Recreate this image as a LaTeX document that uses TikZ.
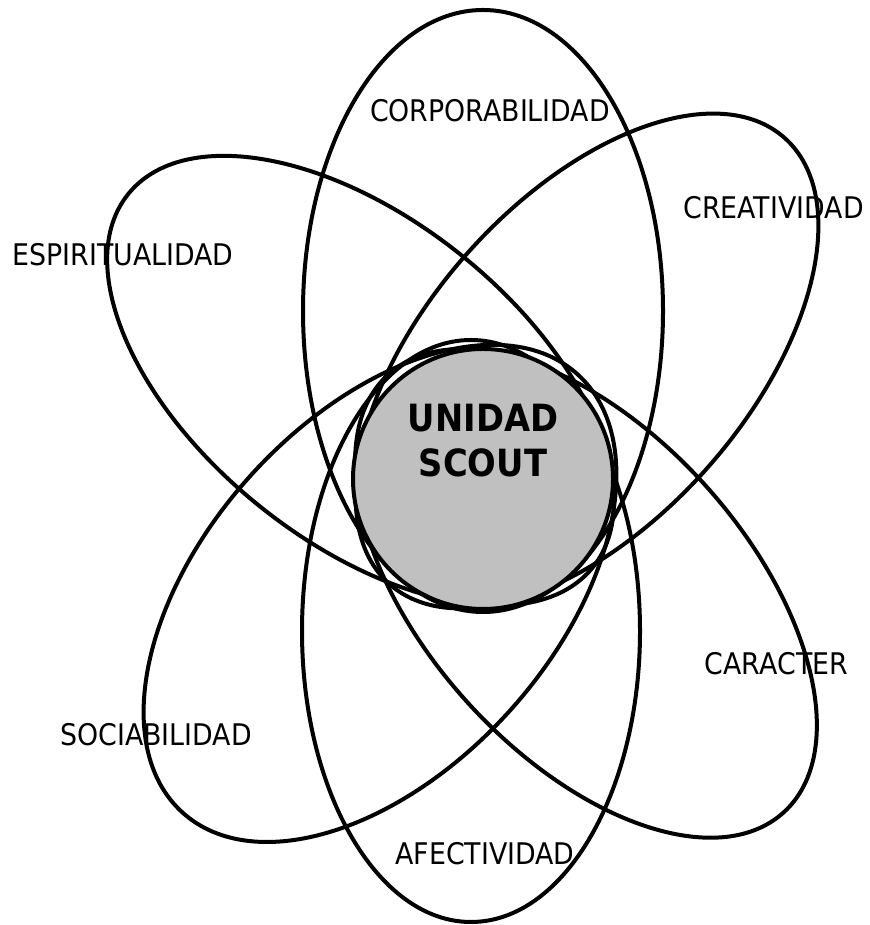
\documentclass[tikz,border=0pt]{standalone}
\usepackage{fontspec}
\setmainfont{DejaVu Sans}[FakeStretch=0.9]
\usepackage{tikz}
\definecolor{scoutgray}{RGB}{192,192,192}

\begin{document}
\begin{tikzpicture}[x=1pt, y=1pt,
    petalo/.style={draw=black, line width=4pt},
    rotulo/.style={font=\fontsize{29.8}{36}\selectfont, inner sep=0pt}]
    \useasboundingbox (0,0) rectangle (869,925);

    % Petals
    \draw[petalo] (483,614) ellipse [x radius=180, y radius=301];
    \draw[petalo] (471,294) ellipse [x radius=169, y radius=291];
    \draw[petalo] (360.5,544.3) ellipse [x radius=298, y radius=161, rotate=-38.75];
    \draw[petalo] (587,564) ellipse [x radius=298, y radius=161, rotate=48.5];
    \draw[petalo] (586,331.6) ellipse [x radius=295, y radius=161, rotate=-48];
    \draw[petalo] (380,331.6) ellipse [x radius=295, y radius=175, rotate=48];

    % Central circle
    \node[circle, draw=black, fill=scoutgray, line width=4pt,
          minimum size=260pt, inner sep=0pt] (nucleo) at (483,446) {};
    \node[font=\bfseries\fontsize{37.5}{45}\selectfont, align=center,
          inner sep=0pt] (unidad) at (483,484.5) {UNIDAD\\SCOUT};

    % Areas
    \node[rotulo] (corpo) at (490,814) {CORPORABILIDAD};
    \node[rotulo] (creat) at (773.5,717.5) {CREATIVIDAD};
    \node[rotulo] (espir) at (123,670) {ESPIRITUALIDAD};
    \node[rotulo] (socia) at (156,190) {SOCIABILIDAD};
    \node[rotulo] (carac) at (776.5,261.5) {CARACTER};
    \node[rotulo] (afect) at (485,71) {AFECTIVIDAD};
\end{tikzpicture}
\end{document}
